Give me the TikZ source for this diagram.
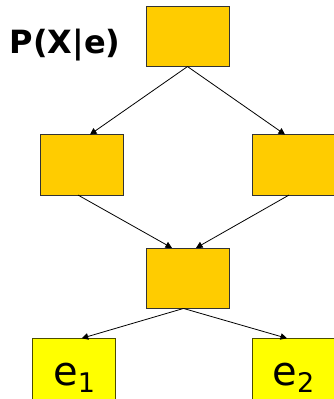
\documentclass[tikz,border=0pt]{standalone}
\usepackage{fontspec}
\setmainfont{DejaVu Sans}
\usetikzlibrary{arrows.meta}
\definecolor{boxorange}{HTML}{FFCC00}
\definecolor{boxyellow}{HTML}{FFFF00}
\definecolor{edgedark}{HTML}{333333}
\definecolor{edgeolive}{HTML}{4D4D00}
\tikzset{
  cpt/.style={draw=edgedark, fill=boxorange, line width=0.9pt, minimum width=83pt, minimum height=60.5pt, inner sep=0pt, outer sep=0pt},
  evid/.style={draw=edgeolive, fill=boxyellow, line width=0.9pt, minimum width=83pt, minimum height=61pt, inner sep=0pt, outer sep=0pt, text height=32.4pt, text depth=0pt, font=\fontsize{40}{40}\selectfont},
  link/.style={draw=black, line width=0.8pt, -{Triangle[length=6.5pt,width=6.5pt]}}
}
\newcommand{\subsc}[1]{\raisebox{-7.7pt}{\fontsize{27}{27}\selectfont #1}}
\begin{document}
\begin{tikzpicture}[x=1pt,y=-1pt]
\useasboundingbox (0,0) rectangle (334,399);
\clip (0,0) rectangle (334,399);
\fill[white] (0,0) rectangle (334,399);
\node[cpt] (top) at (187.5,36.3) {};
\node[cpt] (midL) at (81.5,164.8) {};
\node[cpt] (midR) at (293.5,164.8) {};
\node[cpt] (bot) at (187.5,278.2) {};
\node[evid] (e1) at (74.2,368.8) {e\subsc{1}};
\node[evid] (e2) at (293.5,368.8) {e\subsc{2}};
\node[anchor=base west, inner sep=0pt, font=\bfseries\fontsize{32}{32}\selectfont] (lab) at (9.5,53) {P(X|e)};
\draw[link] (top.south) -- ([xshift=8.5pt]midL.north);
\draw[link] (top.south) -- ([xshift=-8.5pt]midR.north);
\draw[link] ([xshift=-3.5pt]midL.south) -- ([xshift=-15.5pt]bot.north);
\draw[link] ([xshift=-4.5pt]midR.south) -- ([xshift=8.5pt]bot.north);
\draw[link] ([xshift=-4pt]bot.south) -- ([xshift=7.5pt]e1.north);
\draw[link] ([xshift=-4pt]bot.south) -- ([xshift=-6.5pt]e2.north);
\end{tikzpicture}
\end{document}
